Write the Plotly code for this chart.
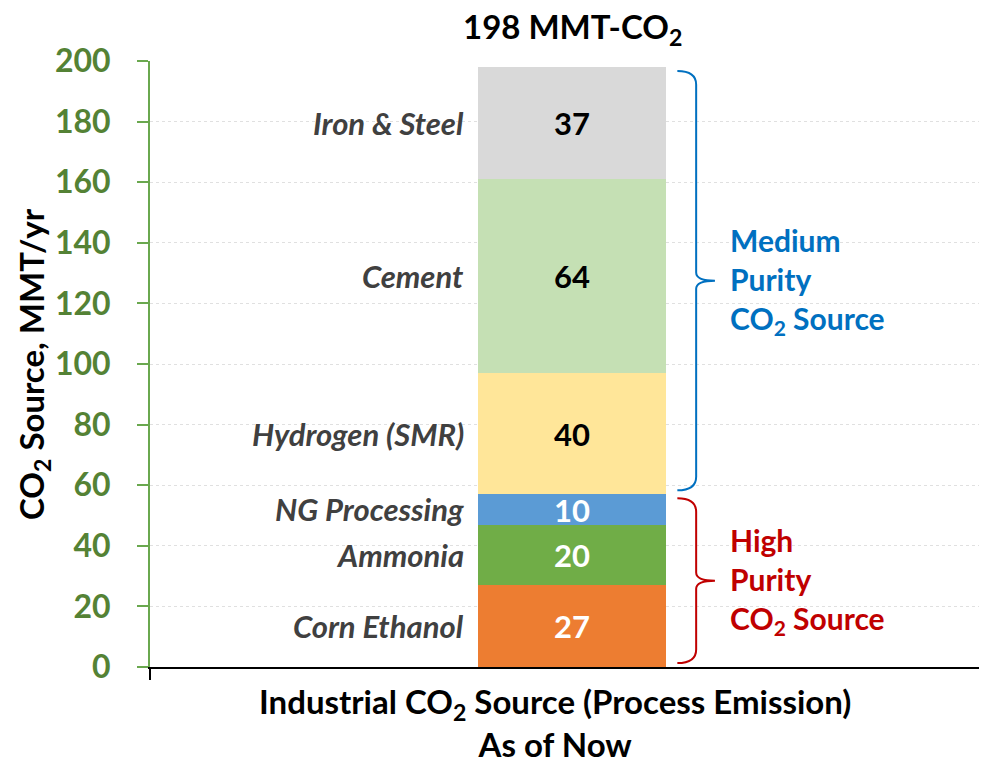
import plotly.graph_objects as go

# stacked CO2 sources, bottom -> top
sources = ["Corn Ethanol", "Ammonia", "NG Processing", "Hydrogen (SMR)", "Cement", "Iron & Steel"]
emissions = [27, 20, 10, 40, 64, 37]
colors = ["#ED7D31", "#70AD47", "#5B9BD5", "#FFE699", "#C5E0B4", "#D9D9D9"]
label_colors = ["white", "white", "white", "black", "black", "black"]
n_high = 3  # first three are high purity
y_ticks = [0, 20, 40, 60, 80, 100, 120, 140, 160, 180, 200]

FONT = "Lato"
total = sum(emissions)

fig = go.Figure()
base = 0
for name, val, col, lc in zip(sources, emissions, colors, label_colors):
    fig.add_trace(go.Bar(
        x=[0], y=[val], width=1, name=name,
        marker=dict(color=col, line=dict(width=0)),
        text=[str(val)], textposition="inside", insidetextanchor="middle",
        textangle=0, cliponaxis=False,
        textfont=dict(family=FONT, size=31, color=lc, weight="bold"),
        hoverinfo="skip",
    ))
    # category label to the left of the segment
    fig.add_annotation(
        x=-0.5, y=base + val / 2, xref="x", yref="y",
        text=f"<b><i>{name}</i></b>", showarrow=False,
        xanchor="right", yanchor="middle", xshift=-12,
        font=dict(family=FONT, size=31, color="#404040"),
    )
    base += val

# total on top
fig.add_annotation(
    x=0, y=total, xref="x", yref="y", text=f"<b>{total} MMT-CO<sub>2</sub></b>",
    showarrow=False, yanchor="bottom", yshift=14,
    font=dict(family=FONT, size=33, color="black"),
)


def brace(y_top, y_bot, color):
    x0, x1, x2 = 0.56, 0.66, 0.76
    r1, r2 = 4.5, 2.7
    ym = (y_top + y_bot) / 2
    path = (f"M {x0},{y_top} Q {x1},{y_top} {x1},{y_top - r1} "
            f"L {x1},{ym + r2} Q {x1},{ym} {x2},{ym} "
            f"Q {x1},{ym} {x1},{ym - r2} L {x1},{y_bot + r1} "
            f"Q {x1},{y_bot} {x0},{y_bot}")
    fig.add_shape(type="path", path=path, xref="x", yref="y",
                  line=dict(color=color, width=2))
    return ym


high_top = sum(emissions[:n_high])
pad = 1.3
ym = brace(total - pad, high_top + pad, "#0070C0")
fig.add_annotation(x=0.83, y=ym, xref="x", yref="y",
                   text="<b>Medium<br>Purity<br>CO<sub>2</sub> Source</b>",
                   showarrow=False, xanchor="left", align="left",
                   font=dict(family=FONT, size=30, color="#0070C0"))
ym = brace(high_top - pad, pad, "#C00000")
fig.add_annotation(x=0.83, y=ym, xref="x", yref="y",
                   text="<b>High<br>Purity<br>CO<sub>2</sub> Source</b>",
                   showarrow=False, xanchor="left", align="left",
                   font=dict(family=FONT, size=30, color="#C00000"))

# axis titles
fig.add_annotation(x=0, y=0.5, xref="paper", yref="paper", xshift=-117,
                   xanchor="center", yanchor="middle",
                   text="<b>CO<sub>2</sub> Source, MMT/yr</b>", textangle=-90,
                   showarrow=False, font=dict(family=FONT, size=33, color="black"))
fig.add_annotation(x=0.484, y=0, xref="paper", yref="paper", yanchor="top", yshift=-12,
                   text="<b>Industrial CO<sub>2</sub> Source (Process Emission)<br>As of Now</b>",
                   showarrow=False, font=dict(family=FONT, size=33, color="black"))

x_left, x_right = -2.245, 2.207
fig.update_layout(
    width=979, height=754,
    margin=dict(l=142, r=0, t=53, b=95),
    barmode="stack", showlegend=False, bargap=0,
    plot_bgcolor="white", paper_bgcolor="white",
    uniformtext=dict(minsize=31, mode="show"),
    xaxis=dict(range=[x_left, x_right], showgrid=False, zeroline=False,
               showline=True, linecolor="black", linewidth=2,
               tickvals=[x_left], ticks="outside", ticklen=11, tickcolor="black",
               tickwidth=2, showticklabels=False),
    yaxis=dict(range=[0, 200], tickvals=y_ticks, showgrid=True, gridcolor="#E0E0E0",
               griddash="dot", gridwidth=1, zeroline=False,
               showline=True, linecolor="#6AA84F", linewidth=2,
               ticks="outside", ticklen=11, tickcolor="#6AA84F", tickwidth=2,
               ticklabelstandoff=20,
               tickfont=dict(family=FONT, size=32, color="#548235", weight=700)),
)

fig.write_html("out.html")
